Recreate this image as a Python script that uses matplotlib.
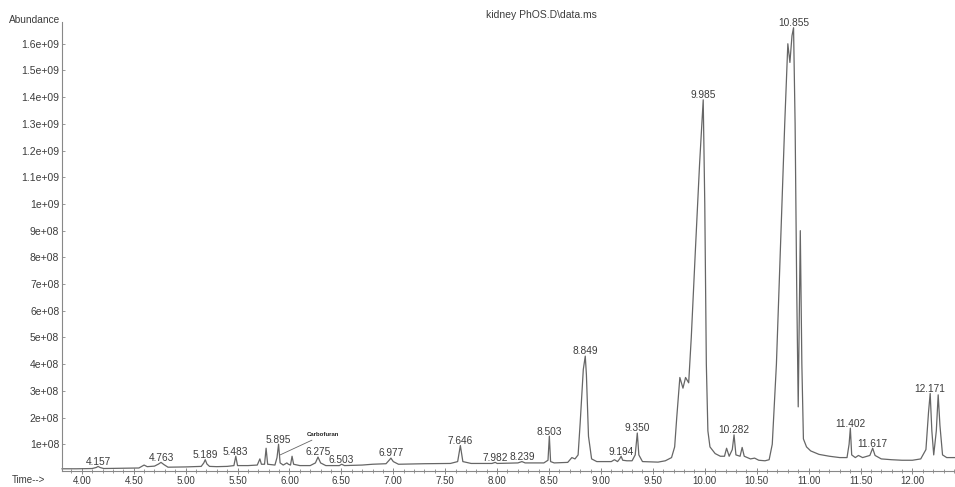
import numpy as np
import matplotlib
matplotlib.use("Agg")
import matplotlib.pyplot as plt
from matplotlib.ticker import MultipleLocator, FuncFormatter

# TIC trace, retention time (min) and abundance (x1e8 counts)
rt = [3.81, 3.95, 4.10, 4.14, 4.157, 4.175, 4.21, 4.40, 4.55, 4.60, 4.63, 4.70,
      4.74, 4.763, 4.79, 4.83, 5.00, 5.15, 5.175, 5.189, 5.205, 5.23, 5.30, 5.40,
      5.465, 5.483, 5.50, 5.60, 5.69, 5.715, 5.73, 5.76, 5.775, 5.79, 5.86, 5.88,
      5.895, 5.91, 5.94, 5.975, 5.99, 6.01, 6.025, 6.04, 6.10, 6.20, 6.25, 6.275,
      6.30, 6.35, 6.48, 6.503, 6.53, 6.70, 6.80, 6.93, 6.96, 6.977, 7.00, 7.05,
      7.30, 7.55, 7.62, 7.646, 7.67, 7.75, 7.95, 7.982, 8.00, 8.20, 8.239, 8.27,
      8.45, 8.49, 8.503, 8.515, 8.55, 8.68, 8.72, 8.75, 8.78, 8.80, 8.83, 8.849,
      8.86, 8.88, 8.91, 8.96, 9.10, 9.13, 9.16, 9.18, 9.194, 9.21, 9.25, 9.30,
      9.33, 9.350, 9.365, 9.40, 9.55, 9.62, 9.68, 9.71, 9.73, 9.76, 9.79, 9.815,
      9.845, 9.87, 9.91, 9.95, 9.985, 10.00, 10.015, 10.03, 10.05, 10.10, 10.15,
      10.19, 10.21, 10.235, 10.265, 10.282, 10.30, 10.34, 10.36, 10.38, 10.44,
      10.48, 10.52, 10.58, 10.62, 10.65, 10.69, 10.73, 10.77, 10.80, 10.82, 10.84,
      10.855, 10.87, 10.885, 10.90, 10.92, 10.935, 10.95, 10.98, 11.02, 11.10,
      11.20, 11.30, 11.37, 11.39, 11.402, 11.415, 11.45, 11.48, 11.52, 11.59,
      11.617, 11.64, 11.70, 11.80, 11.90, 12.00, 12.08, 12.13, 12.155, 12.171,
      12.187, 12.205, 12.23, 12.248, 12.265, 12.29, 12.33, 12.41]
abund = [0.08, 0.08, 0.09, 0.13, 0.17, 0.13, 0.09, 0.10, 0.11, 0.22, 0.16, 0.18,
         0.26, 0.32, 0.24, 0.14, 0.15, 0.17, 0.30, 0.42, 0.26, 0.17, 0.16, 0.17,
         0.20, 0.55, 0.20, 0.20, 0.22, 0.45, 0.25, 0.25, 0.85, 0.25, 0.22, 0.50,
         1.00, 0.30, 0.22, 0.30, 0.25, 0.22, 0.55, 0.25, 0.20, 0.20, 0.30, 0.52,
         0.30, 0.20, 0.20, 0.25, 0.20, 0.22, 0.25, 0.27, 0.40, 0.48, 0.35, 0.25,
         0.27, 0.28, 0.35, 0.95, 0.35, 0.28, 0.28, 0.32, 0.28, 0.30, 0.35, 0.30,
         0.30, 0.40, 1.30, 0.35, 0.30, 0.32, 0.50, 0.45, 0.60, 1.80, 3.80, 4.30,
         3.60, 1.30, 0.45, 0.35, 0.35, 0.42, 0.35, 0.45, 0.55, 0.40, 0.38, 0.38,
         0.60, 1.42, 0.60, 0.35, 0.33, 0.38, 0.50, 0.90, 2.00, 3.50, 3.10, 3.50,
         3.30, 5.00, 8.30, 11.50, 13.90, 10.00, 4.00, 1.50, 0.90, 0.65, 0.55,
         0.55, 0.85, 0.55, 0.80, 1.35, 0.60, 0.55, 0.88, 0.55, 0.45,
         0.48, 0.40, 0.38, 0.42, 1.00, 4.00, 8.50, 13.00, 16.00, 15.30, 16.30,
         16.60, 13.00, 7.00, 2.40, 9.00, 4.00, 1.20, 0.90, 0.75, 0.62,
         0.55, 0.50, 0.50, 1.00, 1.60, 0.60, 0.50, 0.58, 0.50, 0.58,
         0.85, 0.58, 0.45, 0.42, 0.40, 0.40, 0.45, 0.80, 2.20, 2.90,
         1.50, 0.60, 1.50, 2.85, 1.70, 0.60, 0.50, 0.50]

# integrated peaks labelled with their retention times
peak_rt = [4.157, 4.763, 5.189, 5.483, 5.895, 6.275, 6.503, 6.977, 7.646, 7.982,
           8.239, 8.503, 8.849, 9.194, 9.350, 9.985, 10.282, 10.855, 11.402,
           11.617, 12.171]
peak_names = {5.895: "Carbofuran"}

y_ticks = [1e8 * k for k in range(1, 17)]

plt.rcParams['font.family'] = ['Liberation Sans', 'DejaVu Sans']
ink = '#3c3c3c'
trace_col = '#666666'

fig = plt.figure(figsize=(9.55, 4.87), dpi=100)
ax = fig.add_axes([0.065, 0.033, 0.935, 0.921])

t = np.array(rt)
a = np.array(abund) * 1e8
ax.plot(t, a, color=trace_col, lw=0.9, clip_on=False)

ax.set_xlim(3.81, 12.41)
ax.set_ylim(0, 1.68e9)

for p in peak_rt:
    h = np.interp(p, t, a)
    ax.annotate(f"{p:.3f}", xy=(p, h), xytext=(0, 1.2), textcoords='offset points',
                ha='center', va='baseline', fontsize=7.3, color=ink,
                annotation_clip=False)

for p, name in peak_names.items():
    h = np.interp(p, t, a)
    ax.annotate(name, xy=(p + 0.015, h * 0.6), xytext=(6.17, 1.35e8),
                ha='left', va='center', fontsize=4.3, weight='bold', color='#222222',
                arrowprops=dict(arrowstyle='-', color=trace_col, lw=0.6,
                                shrinkA=0, shrinkB=0))

# axes styling in the ChemStation manner
for s in ['top', 'right']:
    ax.spines[s].set_visible(False)
for s in ['left', 'bottom']:
    ax.spines[s].set_color('#888888')
    ax.spines[s].set_linewidth(0.8)

ax.xaxis.set_major_locator(MultipleLocator(0.5))
ax.xaxis.set_minor_locator(MultipleLocator(0.1))
ax.xaxis.set_major_formatter(FuncFormatter(lambda v, _: f"{v:.2f}"))
ax.set_yticks(y_ticks)
ax.yaxis.set_major_formatter(FuncFormatter(lambda v, _: f"{v:g}"))
ax.tick_params(axis='x', which='both', direction='inout', colors='#888888',
               labelcolor=ink, labelsize=7, pad=2)
ax.tick_params(axis='x', which='major', length=4, width=0.7)
ax.tick_params(axis='x', which='minor', length=2.5, width=0.6)
ax.tick_params(axis='y', direction='in', length=2, width=0.6, colors='#888888',
               labelcolor=ink, labelsize=7.5, pad=2)

fig.text(0.063, 0.958, "Abundance", ha='right', va='center', fontsize=7.3, color=ink)
fig.text(0.012, 0.014, "Time-->", ha='left', va='center', fontsize=7, color=ink)
fig.text(0.567, 0.969, "kidney PhOS.D\\data.ms", ha='center', va='center',
         fontsize=7.5, color=ink)

fig.savefig("out.png", dpi=100)
